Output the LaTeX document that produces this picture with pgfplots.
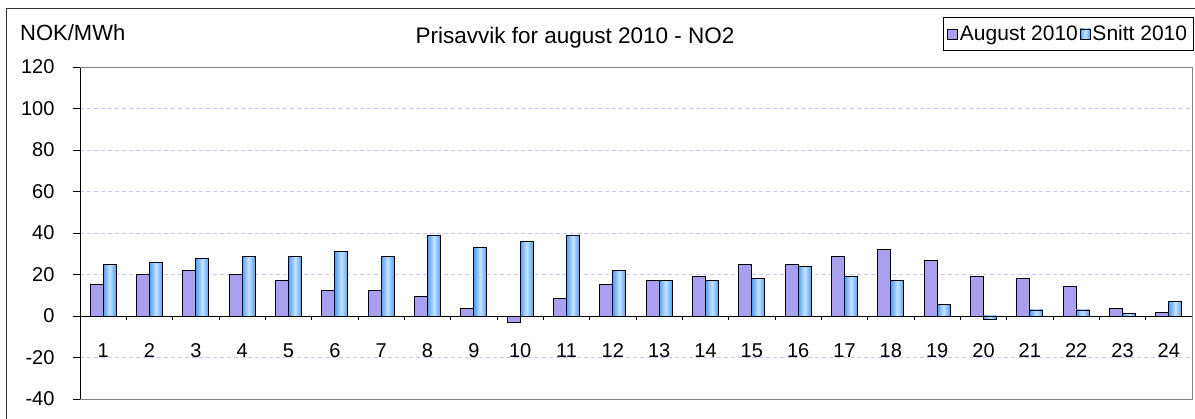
\documentclass[border=0pt]{standalone}
\usepackage{pgfplots}
\usepackage{pgfplotstable}
\pgfplotsset{compat=1.18}
\usepackage{fontspec}
\setmainfont{Liberation Sans}

\definecolor{augfill}{RGB}{168,160,238}
\definecolor{snittedge}{RGB}{78,160,250}
\definecolor{snittmid}{RGB}{200,226,255}
\definecolor{gridlav}{RGB}{196,196,255}
\definecolor{framegray}{RGB}{128,128,128}

\pgfplotstableread{
x  aug   snitt
1  15.2  24.8
2  20.0  25.6
3  21.9  27.5
4  20.0  28.6
5  17.1  28.6
6  12.4  31.3
7  12.4  28.6
8  9.5   38.9
9  3.7   33.2
10 -2.9  36.0
11 8.6   38.9
12 15.2  21.9
13 17.0  17.1
14 19.0  17.1
15 24.8  18.1
16 24.8  23.8
17 28.6  19.0
18 32.2  17.0
19 26.7  5.7
20 19.0  -1.5
21 17.9  2.9
22 14.3  2.9
23 3.8   1.0
24 1.9   6.8
}\prisdata

\begin{document}
\begin{tikzpicture}
\clip (-80pt,-19pt) rectangle (1115pt,399pt);
\begin{axis}[
  at={(0pt,0pt)}, anchor=south west,
  scale only axis, width=1112pt, height=332pt,
  xmin=0.5, xmax=24.5, ymin=-40, ymax=120,
  axis x line*=middle, axis y line*=left,
  x axis line style={black, line width=0.9pt},
  y axis line style={black, line width=0.9pt},
  xtick={1,...,24},
  minor xtick={0.5,1.5,...,24.5},
  major x tick style={draw=none},
  minor x tick style={black, line width=0.9pt},
  minor tick length=4pt,
  xtick align=outside,
  ytick={-40,-20,...,120},
  ytick align=outside,
  major tick length=7pt,
  y tick style={black, line width=0.9pt},
  ymajorgrids,
  grid style={gridlav, dash pattern=on 4pt off 3pt, line width=0.9pt},
  xticklabel style={anchor=center, yshift=-27.5pt, font=\fontsize{20}{23}\selectfont},
  yticklabel style={anchor=east, xshift=-15pt, font=\fontsize{20}{23}\selectfont},
  /pgf/number format/assume math mode=true,
  ybar, bar width=0.28,
  legend columns=2,
  legend style={at={(axis description cs:0.776,1.1506)}, anchor=north west,
    draw=black, line width=0.9pt, font=\fontsize{21}{24}\selectfont,
    inner xsep=4pt, inner ysep=6pt,
    /tikz/every even column/.append style={column sep=0pt}},
  legend image code/.code={\draw[#1, line width=0.6pt] (0pt,-5pt) rectangle (10pt,5pt);},
]
\addplot[bar shift=-0.14, fill=augfill, draw=black, line width=0.9pt]
  table[x=x, y=aug] {\prisdata};
\addlegendentry{August 2010}
\addlegendimage{left color=snittedge, right color=snittedge, middle color=snittmid, draw=black}
\addlegendentry{Snitt 2010}
\pgfplotsinvokeforeach{1,...,24}{
  \addplot[forget plot, bar shift=0.14, left color=snittedge, right color=snittedge,
    middle color=snittmid, draw=black, line width=0.9pt,
    restrict x to domain=#1:#1]
    table[x=x, y=snitt] {\prisdata};
}
\end{axis}
\draw[framegray, line width=0.9pt] (0pt,332pt) -- (1112pt,332pt) -- (1112pt,0pt) -- (0pt,0pt);
\draw[black!80, line width=1pt] (-73pt,-40pt) -- (-73pt,390pt) -- (1200pt,390pt);
\node[anchor=base west, font=\fontsize{22}{26}\selectfont, inner sep=0pt] at (-60pt,358.3pt) {NOK/MWh};
\node[anchor=base, font=\fontsize{22.5}{26}\selectfont, inner sep=0pt] at (495pt,355.7pt) {Prisavvik for august 2010 - NO2};
\end{tikzpicture}
\end{document}
